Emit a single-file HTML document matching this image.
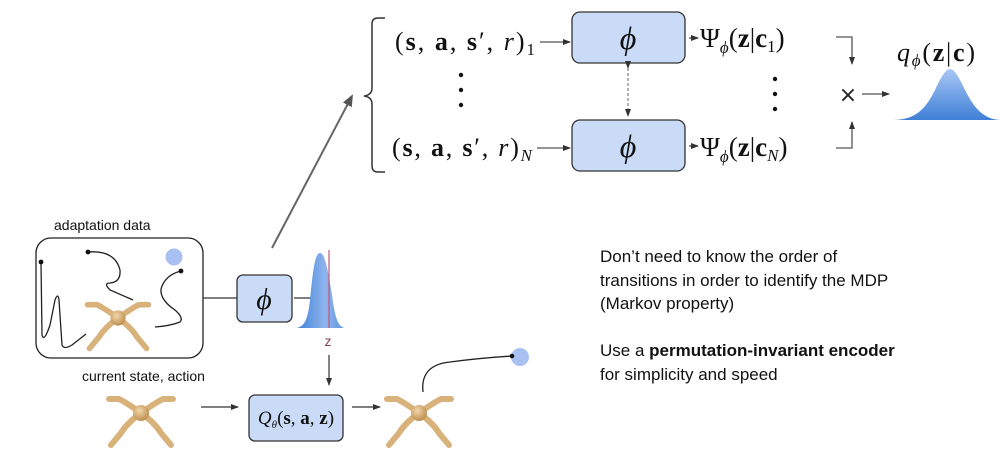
<!DOCTYPE html>
<html><head><meta charset="utf-8">
<style>
html,body{margin:0;padding:0;background:#fff;}
svg{display:block;}
.m{font-family:"Liberation Serif",serif;font-size:26px;fill:#111;}
.b{font-weight:bold;}
.i{font-style:italic;}
.s{font-family:"Liberation Sans",sans-serif;fill:#111;}
</style></head>
<body>
<svg width="1006" height="465" viewBox="0 0 1006 465" xmlns="http://www.w3.org/2000/svg">
<defs>
<marker id="ah" markerWidth="8" markerHeight="8" refX="7" refY="4" orient="auto" markerUnits="userSpaceOnUse"><path d="M0,1 L8,4 L0,7 z" fill="#333"/></marker>
<marker id="ahg" markerWidth="12" markerHeight="12" refX="10" refY="6" orient="auto" markerUnits="userSpaceOnUse"><path d="M0,1 L12,6 L0,11 z" fill="#555"/></marker>
<linearGradient id="gg" x1="0" y1="0" x2="0" y2="1"><stop offset="0" stop-color="#a9c8f5"/><stop offset="1" stop-color="#3f7fd6"/></linearGradient>
<linearGradient id="gh" x1="0" y1="0" x2="1" y2="0"><stop offset="0" stop-color="#3f7fd6"/><stop offset="0.6" stop-color="#8fb5ee"/><stop offset="1" stop-color="#5d93de"/></linearGradient>
<radialGradient id="ball" cx="0.4" cy="0.35" r="0.7"><stop offset="0" stop-color="#f3d7a8"/><stop offset="1" stop-color="#b98a4c"/></radialGradient>
<g id="spider">
<g fill="none" stroke="#d8b27a" stroke-width="6" stroke-linecap="round">
<path d="M0,0 Q-14,-10 -22,-14 L-32,-14"/>
<path d="M0,0 Q14,-10 22,-14 L32,-14"/>
<path d="M0,0 Q-14,10 -20,20 L-30,32"/>
<path d="M0,0 Q14,10 20,20 L30,32"/>
</g>
<circle r="8" fill="url(#ball)"/>
</g>
</defs>

<path d="M385,18 L378,18 Q372,18 372,24 L372,88 Q372,95 364,96 Q372,97 372,104 L372,166 Q372,172 378,172 L385,172" fill="none" stroke="#333" stroke-width="1.5"/>
<text class="m" x="395" y="50" textLength="140" lengthAdjust="spacing">(<tspan class="b">s</tspan>, <tspan class="b">a</tspan>, <tspan class="b">s</tspan>′, <tspan class="i">r</tspan>)<tspan font-size="17" dy="5">1</tspan></text>
<text class="m" x="392" y="156" textLength="140" lengthAdjust="spacing">(<tspan class="b">s</tspan>, <tspan class="b">a</tspan>, <tspan class="b">s</tspan>′, <tspan class="i">r</tspan>)<tspan class="i" font-size="17" dy="5">N</tspan></text>
<g fill="#111"><circle cx="461" cy="75" r="2.2"/><circle cx="461" cy="90" r="2.2"/><circle cx="461" cy="105" r="2.2"/></g>
<line x1="540" y1="42" x2="570" y2="42" stroke="#555" stroke-width="1.3" marker-end="url(#ah)"/>
<line x1="537" y1="148" x2="570" y2="148" stroke="#555" stroke-width="1.3" marker-end="url(#ah)"/>
<rect x="572" y="12" width="113" height="51" rx="8" fill="#c9dbf6" stroke="#333" stroke-width="1.3"/>
<rect x="572" y="120" width="113" height="51" rx="8" fill="#c9dbf6" stroke="#333" stroke-width="1.3"/>
<text class="m i" x="628" y="49" text-anchor="middle" style="font-size:32px">ϕ</text>
<text class="m i" x="628" y="157" text-anchor="middle" style="font-size:32px">ϕ</text>
<line x1="628" y1="68" x2="628" y2="116" stroke="#666" stroke-width="1" stroke-dasharray="3,2" marker-start="url(#ah)" marker-end="url(#ah)"/>
<line x1="689" y1="38" x2="698" y2="38" stroke="#555" stroke-width="1.3" marker-end="url(#ah)"/>
<line x1="689" y1="146" x2="698" y2="146" stroke="#555" stroke-width="1.3" marker-end="url(#ah)"/>
<text class="m" x="700" y="47" style="font-size:27px">Ψ<tspan class="i" font-size="17" dy="6">ϕ</tspan><tspan dy="-6">(</tspan><tspan class="b">z</tspan>|<tspan class="b">c</tspan><tspan font-size="17" dy="5">1</tspan><tspan dy="-5">)</tspan></text>
<text class="m" x="700" y="156" style="font-size:27px">Ψ<tspan class="i" font-size="17" dy="6">ϕ</tspan><tspan dy="-6">(</tspan><tspan class="b">z</tspan>|<tspan class="b">c</tspan><tspan class="i" font-size="17" dy="5">N</tspan><tspan dy="-5">)</tspan></text>
<g fill="#111"><circle cx="775" cy="79" r="2.2"/><circle cx="775" cy="94" r="2.2"/><circle cx="775" cy="109" r="2.2"/></g>
<path d="M836,37 L852,37 L852,64" fill="none" stroke="#555" stroke-width="1.3" marker-end="url(#ah)"/>
<path d="M836,148 L852,148 L852,122" fill="none" stroke="#555" stroke-width="1.3" marker-end="url(#ah)"/>
<text x="848" y="102" text-anchor="middle" font-family="DejaVu Sans" font-size="22" fill="#222">×</text>
<line x1="862" y1="94" x2="889" y2="94" stroke="#555" stroke-width="1.3" marker-end="url(#ah)"/>
<text class="m" x="897" y="61" textLength="78" lengthAdjust="spacing"><tspan class="i">q</tspan><tspan class="i" font-size="17" dy="5">ϕ</tspan><tspan dy="-5">(</tspan><tspan class="b">z</tspan>|<tspan class="b">c</tspan>)</text>
<path d="M892,120 C915,120 925,110 935,90 C942,75 946,69 950,69 C954,69 958,75 965,90 C975,110 985,120 1002,120 Z" fill="url(#gg)"/>

<line x1="272" y1="248" x2="352" y2="96" stroke="#666" stroke-width="2" marker-end="url(#ahg)"/>

<text class="s" x="54" y="230" font-size="14">adaptation data</text>
<rect x="36" y="238" width="167" height="120" rx="15" fill="#fff" stroke="#222" stroke-width="1.3"/>
<g fill="none" stroke="#222" stroke-width="1.3">
<path d="M41,262 L42,335 Q44,343 50,325 L55,300 Q58,292 59,300 L62,345 Q64,350 72,345 L86,334"/>
<path d="M88,252 Q115,250 120,270 Q121,282 110,283 Q103,283 110,290 L133,300"/>
<path d="M181,271 Q165,275 161,289 Q160,300 175,310 Q184,318 180,322 Q170,326 155,327"/>
</g>
<g fill="#111"><circle cx="41" cy="262" r="2.4"/><circle cx="88" cy="252" r="2.4"/><circle cx="181" cy="271" r="2.4"/></g>
<circle cx="174" cy="257" r="8.5" fill="#a9c0f2"/>
<use href="#spider" transform="translate(118,318) scale(0.95)"/>

<line x1="203" y1="298" x2="238" y2="298" stroke="#333" stroke-width="1.2"/>
<rect x="237" y="275" width="55" height="47" rx="6" fill="#c9dbf6" stroke="#333" stroke-width="1.3"/>
<text class="m i" x="264" y="309" text-anchor="middle" style="font-size:30px">ϕ</text>
<line x1="294" y1="298" x2="320" y2="298" stroke="#333" stroke-width="1.3" marker-end="url(#ah)"/>
<path d="M296,328 C305,327 308,318 310,300 C313,270 315,253 320,253 C325,253 328,270 332,295 C335,318 338,327 345,328 Z" fill="url(#gh)"/>
<line x1="329" y1="250" x2="329" y2="328" stroke="#c0577a" stroke-width="1.2"/>
<text class="s" x="328" y="346" font-size="14" text-anchor="middle" style="fill:#8a3a5a">z</text>
<line x1="329" y1="355" x2="329" y2="385" stroke="#333" stroke-width="1.2" marker-end="url(#ah)"/>

<text class="s" x="82" y="381" font-size="14">current state, action</text>
<use href="#spider" transform="translate(141,413)"/>
<line x1="201" y1="407" x2="238" y2="407" stroke="#333" stroke-width="1.3" marker-end="url(#ah)"/>
<rect x="249" y="395" width="94" height="46" rx="6" fill="#c9dbf6" stroke="#333" stroke-width="1.3"/>
<text class="m" x="296" y="424" text-anchor="middle" style="font-size:19px"><tspan class="i">Q</tspan><tspan class="i" font-size="11" dy="4">θ</tspan><tspan dy="-4">(</tspan><tspan class="b">s</tspan>, <tspan class="b">a</tspan>, <tspan class="b">z</tspan>)</text>
<line x1="352" y1="407" x2="380" y2="407" stroke="#333" stroke-width="1.3" marker-end="url(#ah)"/>
<use href="#spider" transform="translate(419,413)"/>
<path d="M423,392 Q420,365 450,362 Q480,358 512,356" fill="none" stroke="#222" stroke-width="1.3"/>
<circle cx="520" cy="357" r="9" fill="#a9c0f2"/>
<circle cx="512" cy="356" r="2.3" fill="#111"/>

<g class="s" font-size="17">
<text x="600" y="262">Don’t need to know the order of</text>
<text x="600" y="286">transitions in order to identify the MDP</text>
<text x="600" y="309">(Markov property)</text>
<text x="600" y="356">Use a <tspan font-weight="bold">permutation-invariant encoder</tspan></text>
<text x="600" y="380">for simplicity and speed</text>
</g>
</svg>
</body></html>
